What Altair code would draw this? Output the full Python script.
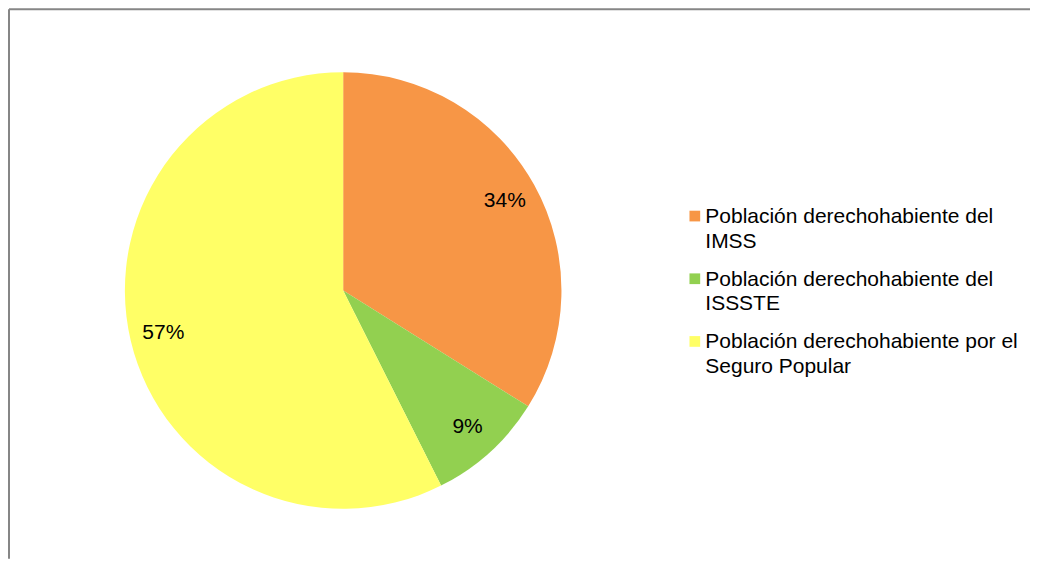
import altair as alt
import pandas as pd

categories = [
    "Población derechohabiente del IMSS",
    "Población derechohabiente del ISSSTE",
    "Población derechohabiente por el Seguro Popular",
]
legend_labels = [
    "Población derechohabiente del\nIMSS",
    "Población derechohabiente del\nISSSTE",
    "Población derechohabiente por el\nSeguro Popular",
]
values = [33.9, 8.7, 57.4]
colors = ["#F79646", "#92D050", "#FFFF66"]

df = pd.DataFrame({
    "cat": categories,
    "legend": legend_labels,
    "value": values,
    "idx": list(range(len(categories))),
})

FONT = "Arial, Liberation Sans, sans-serif"
W, H = 1023, 551
CX, CY, R = 335.5, 282.5, 218.5

color = alt.Color("cat:N", scale=alt.Scale(domain=categories, range=colors), legend=None)
theta = alt.Theta("value:Q", stack=True)

base = alt.Chart(df)

pie = base.mark_arc(radius=R, stroke=None).encode(
    theta=theta,
    color=color,
    order=alt.Order("idx:Q"),
    x=alt.value(CX),
    y=alt.value(CY),
)

labels = base.transform_calculate(
    pct="format(datum.value / 100, '.0%')"
).mark_text(radius=185, font=FONT, fontSize=21, color="#000000").encode(
    theta=theta,
    order=alt.Order("idx:Q"),
    text="pct:N",
    x=alt.value(CX),
    y=alt.value(CY),
)

ly = alt.Y("cat:N", scale=alt.Scale(domain=categories, range=[208, 333.5], padding=0), axis=None)

leg_sym = base.mark_square(size=115, opacity=1).encode(
    x=alt.value(687.5),
    y=ly,
    color=color,
)

leg_txt = base.mark_text(
    align="left", baseline="alphabetic", dy=7, font=FONT, fontSize=21,
    lineBreak="\n", lineHeight=24.5, color="#000000",
).encode(
    x=alt.value(698),
    y=ly,
    text="legend:N",
)

frame_src = alt.Chart(pd.DataFrame({"k": [0]}))
top_edge = frame_src.mark_rule(color="#868686", strokeWidth=2).encode(
    x=alt.value(1), x2=alt.value(W), y=alt.value(1)
)
left_edge = frame_src.mark_rule(color="#868686", strokeWidth=2).encode(
    x=alt.value(1), y=alt.value(1), y2=alt.value(H)
)

chart = alt.layer(pie, labels, leg_sym, leg_txt, top_edge, left_edge).properties(
    width=W, height=H, padding=0, background="white"
).configure_view(
    stroke=None
)

chart.save("out.html", embed_options={"renderer": "svg", "actions": False})
